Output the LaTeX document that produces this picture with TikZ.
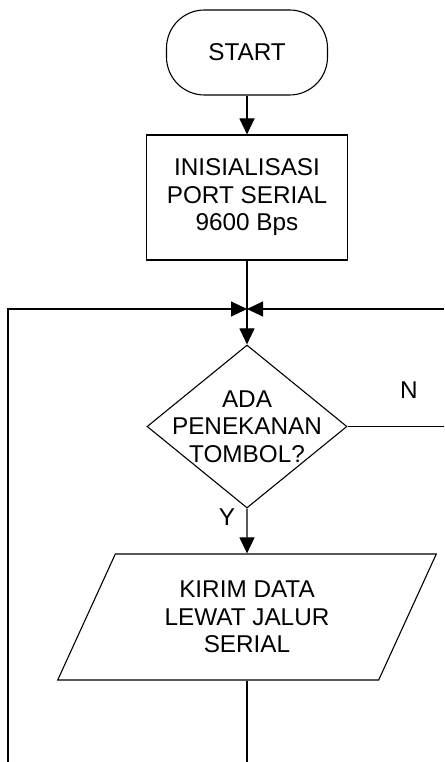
\documentclass[tikz,border=0pt]{standalone}
\usepackage{fontspec}
\setmainfont{Liberation Sans}
\usetikzlibrary{shapes.geometric, arrows.meta}

\begin{document}
\begin{tikzpicture}[x=1pt, y=-1pt, line width=1.1pt,
    every node/.style={font=\fontsize{24.3}{27.5}\selectfont},
    terminal/.style={draw, rounded corners=38pt, minimum width=161pt, minimum height=85pt},
    process/.style={draw, align=center, minimum width=201pt, minimum height=125pt},
    decision/.style={draw, diamond, minimum width=200pt, minimum height=163pt, inner sep=0pt},
    io/.style={draw, trapezium, trapezium left angle=64.5, trapezium right angle=115.5,
        trapezium stretches=true, minimum width=380pt, minimum height=126pt, align=center},
    arr/.style={-{Triangle[length=16pt, width=15pt]}}]
    \useasboundingbox (0,0) rectangle (444,762);
    % blocks
    \node[terminal] (start) at (247,52.5) {START};
    \node[process] (init) at (247,197.5) {INISIALISASI\\PORT SERIAL\\9600 Bps};
    \coordinate (join) at (247,309);
    \node[decision, label={[align=center]center:ADA\\PENEKANAN\\TOMBOL?}] (dec) at (247,426.5) {};
    \node[io] (send) at (247,617) {KIRIM DATA\\LEWAT JALUR\\SERIAL};
    % free ends at the border
    \coordinate (loopL) at (8,762);
    \coordinate (edgeR) at (444,309);
    \coordinate (edgeN) at (444,426.5);
    \coordinate (endB) at (247,762);
    % connectors
    \draw[arr] (start) -- (init);
    \draw (init) -- (join);
    \draw[arr] (join) -- (dec);
    \draw[arr] (loopL) |- (join);
    \draw[arr] (edgeR) -- (join);
    \draw (dec) -- (edgeN);
    \draw[arr] (dec) -- (send);
    \draw (send) -- (endB);
    % branch labels
    \node (n) at (409,390) {N};
    \node (y) at (227,517) {Y};
\end{tikzpicture}
\end{document}
